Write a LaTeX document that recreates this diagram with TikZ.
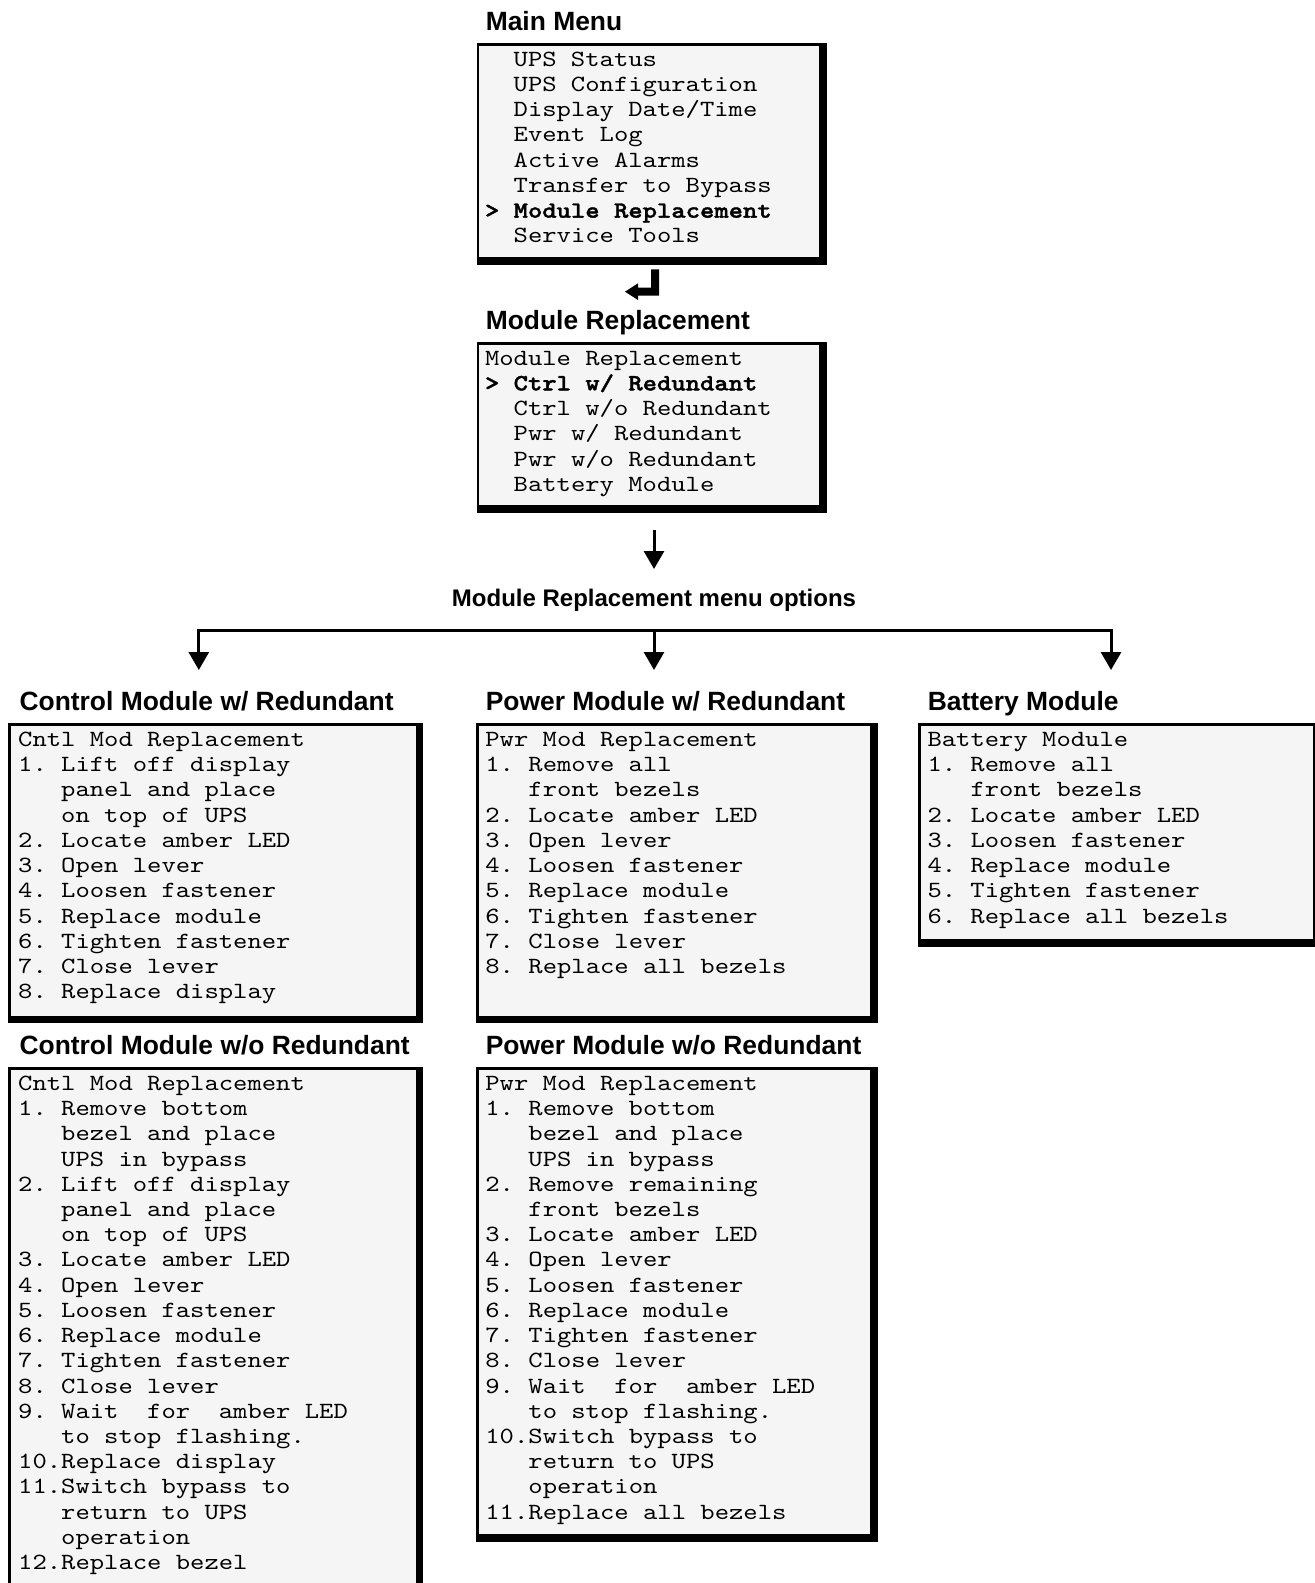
\documentclass[tikz,border=0pt]{standalone}
\usepackage{fontspec}
\setmainfont{Liberation Sans}
\newfontfamily\monofont{lmmono10-regular}[Extension=.otf, BoldFont=lmmonolt10-bold, BoldFeatures={FakeBold=1.6}, FakeStretch=1.177]
\newfontfamily\titlefont{Liberation Sans}
\usetikzlibrary{arrows.meta,calc}
\definecolor{panelgray}{RGB}{245,245,245}
\newcommand\ml[1]{\hbox{\strut#1}}
\tikzset{
  panel/.style={draw=none, fill=black, inner sep=0pt, outer sep=0pt, anchor=north west, rectangle},
  menutext/.style={font=\monofont\fontsize{11.6}{12.615}\selectfont\frenchspacing, inner sep=0pt, outer sep=0pt, anchor=base west, text=black},
  paneltitle/.style={font=\titlefont\bfseries\fontsize{13.2}{15}\selectfont, inner sep=0pt, anchor=base west},
  captiontext/.style={font=\titlefont\bfseries\fontsize{12}{14}\selectfont, inner sep=0pt, anchor=base},
  arr/.style={line width=1.5pt, line join=miter, -{Triangle[width=10pt,length=9pt]}},
}
\newcommand\panelbox[5]{%
  \node[panel, minimum width=#4*0.5pt, minimum height=#5*0.5pt] (#1) at (#2,#3) {};
  \fill[panelgray] ($(#1.north west)+(2.5,2.5)$) rectangle ($(#1.south east)+(-7.7,-7.7)$);
}
\begin{document}
\begin{tikzpicture}[x=0.5pt,y=-0.5pt]
\useasboundingbox (0,0) rectangle (1315,1583);
\clip (0,0) rectangle (1315,1583);
\fill[white] (0,0) rectangle (1315,1583);

% titles
\node[paneltitle] (t-main) at (485.4,30.3) {Main Menu};
\node[paneltitle] (t-mod) at (485.4,329.6) {Module Replacement};
\node[paneltitle] (t-cw) at (19.2,710.5) {Control Module w/ Redundant};
\node[paneltitle] (t-pw) at (485.4,710.5) {Power Module w/ Redundant};
\node[paneltitle] (t-bat) at (927.5,710.5) {Battery Module};
\node[paneltitle] (t-cwo) at (19.2,1054.8) {Control Module w/o Redundant};
\node[paneltitle] (t-pwo) at (485.4,1054.8) {Power Module w/o Redundant};

% panels
\panelbox{main}{476.5}{43.3}{350.2}{221.4}
\panelbox{mod}{476.5}{342.1}{350.2}{170.6}
\panelbox{cw}{8.3}{723}{415}{300.3}
\panelbox{pw}{476}{723}{402}{300.3}
\panelbox{bat}{918.4}{723}{402}{223.7}
\panelbox{cwo}{8.3}{1067.3}{415}{540}
\panelbox{pwo}{476}{1067.3}{402}{474.4}

% panel texts
\node[menutext] (main-txt) at (485,66.3) {\vtop{%
  \ml{\ \ UPS Status}
  \ml{\ \ UPS Configuration}
  \ml{\ \ Display Date/Time}
  \ml{\ \ Event Log}
  \ml{\ \ Active Alarms}
  \ml{\ \ Transfer to Bypass}
  \ml{\bfseries >\ Module Replacement}
  \ml{\ \ Service Tools}}};

\node[menutext] (mod-txt) at (485,365.1) {\vtop{%
  \ml{Module Replacement}
  \ml{\bfseries >\ Ctrl w/ Redundant}
  \ml{\ \ Ctrl w/o Redundant}
  \ml{\ \ Pwr w/ Redundant}
  \ml{\ \ Pwr w/o Redundant}
  \ml{\ \ Battery Module}}};

\node[menutext] (cw-txt) at (18.2,746.5) {\vtop{%
  \ml{Cntl Mod Replacement}
  \ml{1. Lift off display}
  \ml{\ \ \ panel and place}
  \ml{\ \ \ on top of UPS}
  \ml{2. Locate amber LED}
  \ml{3. Open lever}
  \ml{4. Loosen fastener}
  \ml{5. Replace module}
  \ml{6. Tighten fastener}
  \ml{7. Close lever}
  \ml{8. Replace display}}};

\node[menutext] (pw-txt) at (485.4,746.5) {\vtop{%
  \ml{Pwr Mod Replacement}
  \ml{1. Remove all}
  \ml{\ \ \ front bezels}
  \ml{2. Locate amber LED}
  \ml{3. Open lever}
  \ml{4. Loosen fastener}
  \ml{5. Replace module}
  \ml{6. Tighten fastener}
  \ml{7. Close lever}
  \ml{8. Replace all bezels}}};

\node[menutext] (bat-txt) at (927.5,746.5) {\vtop{%
  \ml{Battery Module}
  \ml{1. Remove all}
  \ml{\ \ \ front bezels}
  \ml{2. Locate amber LED}
  \ml{3. Loosen fastener}
  \ml{4. Replace module}
  \ml{5. Tighten fastener}
  \ml{6. Replace all bezels}}};

\node[menutext] (cwo-txt) at (18.2,1090.3) {\vtop{%
  \ml{Cntl Mod Replacement}
  \ml{1. Remove bottom}
  \ml{\ \ \ bezel and place}
  \ml{\ \ \ UPS in bypass}
  \ml{2. Lift off display}
  \ml{\ \ \ panel and place}
  \ml{\ \ \ on top of UPS}
  \ml{3. Locate amber LED}
  \ml{4. Open lever}
  \ml{5. Loosen fastener}
  \ml{6. Replace module}
  \ml{7. Tighten fastener}
  \ml{8. Close lever}
  \ml{9. Wait\ \ for\ \ amber LED}
  \ml{\ \ \ to stop flashing.}
  \ml{10.Replace display}
  \ml{11.Switch bypass to}
  \ml{\ \ \ return to UPS}
  \ml{\ \ \ operation}
  \ml{12.Replace bezel}}};

\node[menutext] (pwo-txt) at (485.4,1090.3) {\vtop{%
  \ml{Pwr Mod Replacement}
  \ml{1. Remove bottom}
  \ml{\ \ \ bezel and place}
  \ml{\ \ \ UPS in bypass}
  \ml{2. Remove remaining}
  \ml{\ \ \ front bezels}
  \ml{3. Locate amber LED}
  \ml{4. Open lever}
  \ml{5. Loosen fastener}
  \ml{6. Replace module}
  \ml{7. Tighten fastener}
  \ml{8. Close lever}
  \ml{9. Wait\ \ for\ \ amber LED}
  \ml{\ \ \ to stop flashing.}
  \ml{10.Switch bypass to}
  \ml{\ \ \ return to UPS}
  \ml{\ \ \ operation}
  \ml{11.Replace all bezels}}};

% return (enter) glyph
\fill[black] (659,269.3) -- (659,295.7) -- (638,295.7) -- (638,300) -- (625,291.7)
  -- (638,283.3) -- (638,287.7) -- (651,287.7) -- (651,269.3) -- cycle;

% caption and connectors
\node[captiontext] (cap) at (654,606) {Module Replacement menu options};
\coordinate (a-top) at (654,530);
\coordinate (a-tip) at (654,569);
\draw[arr] (a-top) -- (a-tip);

\coordinate (h1) at (198.8,630.7);
\coordinate (h2) at (654,630.7);
\coordinate (h3) at (1111,630.7);
\coordinate (d1) at (198.8,670);
\coordinate (d2) at (654,670);
\coordinate (d3) at (1111,670);
\draw[arr] (h2) -- (h1) -- (d1);
\draw[arr] (h2) -- (h3) -- (d3);
\draw[arr] (h2) -- (d2);
\end{tikzpicture}
\end{document}
